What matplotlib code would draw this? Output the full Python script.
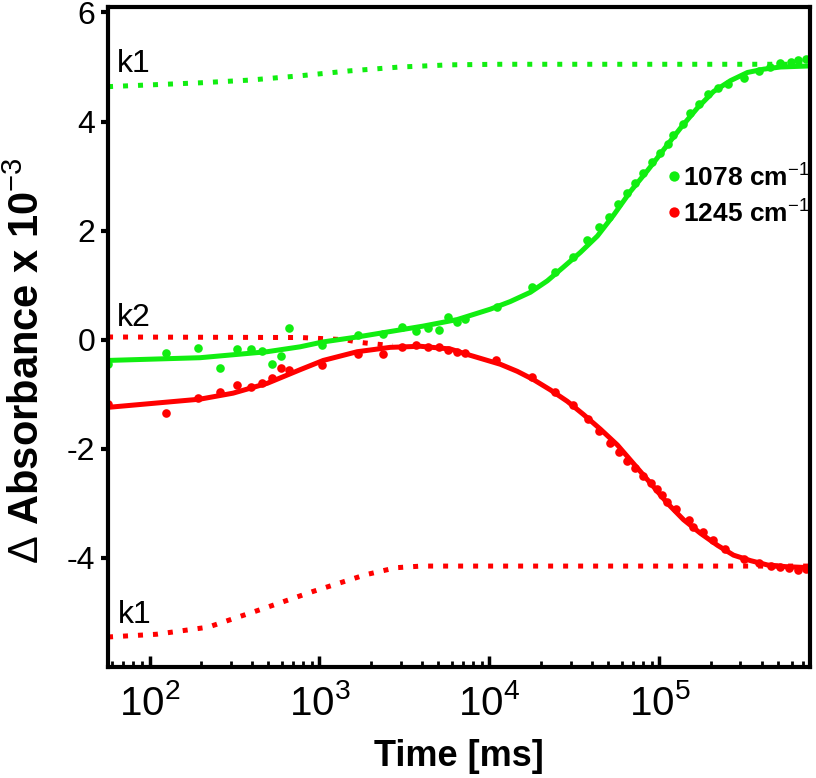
import numpy as np
import matplotlib
matplotlib.use('Agg')
import matplotlib.pyplot as plt

plt.rcParams['font.family'] = ['Liberation Sans', 'DejaVu Sans']
plt.rcParams['mathtext.fontset'] = 'custom'
plt.rcParams['mathtext.rm'] = 'Liberation Sans'
plt.rcParams['mathtext.bf'] = 'Liberation Sans:bold'

GREEN = '#11ee11'
RED = '#ff0000'

# measured points, 1078 cm-1
t_green = [57, 125, 192, 259, 326, 393, 460, 527, 594, 661,
           1040, 1690, 2370, 3070, 3710, 4370, 5070, 5730, 6470, 7210,
           11100, 17700, 24400, 31200, 37700, 44400, 50800, 57400, 64900, 72300,
           80500, 91000, 101000, 112000, 121000, 137000, 152000, 170000, 192000, 220000,
           252000, 313000, 384000, 445000, 516000, 592000, 650000, 725000]
a_green = [-0.45, -0.25, -0.15, -0.52, -0.17, -0.17, -0.2, -0.45, -0.29, 0.22,
           -0.09, 0.09, 0.1, 0.24, 0.16, 0.22, 0.18, 0.42, 0.33, 0.38,
           0.6, 0.96, 1.24, 1.51, 1.82, 2.07, 2.25, 2.49, 2.69, 2.88,
           3.05, 3.25, 3.42, 3.58, 3.75, 3.96, 4.15, 4.33, 4.5, 4.62,
           4.68, 4.8, 4.92, 5.0, 5.07, 5.1, 5.12, 5.15]

# measured points, 1245 cm-1
t_red = [57, 125, 192, 259, 326, 393, 460, 527, 594, 661,
         1040, 1690, 2370, 3070, 3710, 4370, 5070, 5730, 6470, 7210,
         10960, 17700, 24400, 31200, 38200, 44400, 51500, 58200, 64900, 72300,
         79700, 88900, 96500, 103300, 110600, 124900, 149000, 158700, 179400, 205400,
         244900, 313000, 384000, 450800, 516000, 575400, 650000, 725000]
a_red = [-1.18, -1.35, -1.07, -0.95, -0.83, -0.86, -0.8, -0.7, -0.52, -0.55,
         -0.47, -0.27, -0.27, -0.14, -0.1, -0.13, -0.14, -0.18, -0.23, -0.24,
         -0.38, -0.69, -0.96, -1.2, -1.45, -1.67, -1.89, -2.05, -2.22, -2.36,
         -2.49, -2.62, -2.73, -2.85, -2.98, -3.11, -3.31, -3.44, -3.53, -3.67,
         -3.84, -4.02, -4.09, -4.15, -4.16, -4.18, -4.22, -4.2]

# fitted curves
tf_green = [57, 198, 492, 769, 1052, 1667, 2606, 4083, 6471, 10120, 13270, 17420,
            21920, 27230, 34270, 43150, 53650, 67600, 85070, 105700, 133100, 167500,
            208200, 262100, 330000, 410000, 516000, 776000]
af_green = [-0.38, -0.33, -0.22, -0.13, -0.04, 0.05, 0.15, 0.25, 0.37, 0.56, 0.7, 0.87,
            1.08, 1.33, 1.6, 1.9, 2.28, 2.72, 3.1, 3.48, 3.88, 4.25,
            4.55, 4.75, 4.9, 4.96, 5.0, 5.02]
tf_red = [57, 198, 310, 492, 769, 1052, 1667, 2606, 3918, 5884, 7410, 11590, 14590,
          18130, 22830, 28740, 35730, 44980, 56620, 70370, 88620, 111600, 138700,
          174600, 219800, 273100, 343600, 432900, 552200, 776000]
af_red = [-1.24, -1.09, -0.98, -0.8, -0.55, -0.38, -0.22, -0.14, -0.12, -0.17, -0.27,
          -0.45, -0.58, -0.73, -0.92, -1.13, -1.37, -1.64, -1.93, -2.27, -2.63, -3.0,
          -3.3, -3.55, -3.77, -3.95, -4.05, -4.13, -4.16, -4.18]

# kinetic components (dotted)
tk1_green = [57, 198, 389, 776, 1514, 2985, 5890, 11500, 776000]
ak1_green = [4.64, 4.71, 4.76, 4.84, 4.93, 5.0, 5.04, 5.05, 5.05]
tk2_red = [57, 776, 1416, 1734, 2158, 2700]
ak2_red = [0.05, 0.04, 0.0, -0.05, -0.08, -0.11]
tk1_red = [57, 110, 221, 447, 906, 1862, 2818, 3981, 776000]
ak1_red = [-5.45, -5.4, -5.27, -4.95, -4.62, -4.31, -4.18, -4.15, -4.15]

fig = plt.figure(figsize=(8.16, 7.78), dpi=100)
ax = fig.add_axes([0.1324, 0.1427, 0.8603, 0.8483])

dot = (0, (1, 2))
ax.plot(tk1_green, ak1_green, color=GREEN, lw=3.6, ls=dot)
ax.plot(tk2_red, ak2_red, color=RED, lw=3.6, ls=dot)
ax.plot(tk1_red, ak1_red, color=RED, lw=3.6, ls=dot)

ax.plot(tf_green, af_green, color=GREEN, lw=3.6, solid_capstyle='round')
ax.plot(tf_red, af_red, color=RED, lw=3.6, solid_capstyle='round')
ax.plot(t_green, a_green, 'o', color=GREEN, ms=6.2, mew=0,
        label=r'1078 cm$^{\mathrm{-1}}$')
ax.plot(t_red, a_red, 'o', color=RED, ms=6.2, mew=0,
        label=r'1245 cm$^{\mathrm{-1}}$')

ax.text(64, 4.9, 'k1', fontsize=23, va='baseline')
ax.text(64, 0.25, 'k2', fontsize=23, va='baseline')
ax.text(65, -5.2, 'k1', fontsize=23, va='baseline')

ax.set_xscale('log')
ax.set_xlim(57, 7.7e5)
ax.set_ylim(-6, 6.1)
ax.set_yticks([-4, -2, 0, 2, 4, 6])
ax.set_yticklabels(['-4', '-2', '0', '2', '4', '6'])
ax.set_xticks([1e2, 1e3, 1e4, 1e5])
ax.set_xticklabels([r'$\mathregular{10^{2}}$', r'$\mathregular{10^{3}}$',
                    r'$\mathregular{10^{4}}$', r'$\mathregular{10^{5}}$'],
                   fontsize=29)

for s in ax.spines.values():
    s.set_linewidth(3)
ax.tick_params(axis='y', direction='out', length=5, width=3, labelsize=23, pad=4, right=False)
ax.tick_params(axis='x', which='major', direction='in', length=8, width=2.5, pad=12)
ax.tick_params(axis='x', which='minor', direction='in', length=4, width=2)

ax.set_xlabel('Time [ms]', fontsize=26, fontweight='bold', labelpad=12)
ax.set_ylabel(r'$\Delta$ Absorbance x 10$^{\mathrm{-3}}$', fontsize=30,
              fontweight='bold')
ax.yaxis.set_label_coords(-0.085, 0.465)

ax.legend(loc='upper left', bbox_to_anchor=(0.765, 0.80), frameon=False,
          handlelength=0.4, handletextpad=0.15, labelspacing=0.3,
          prop={'weight': 'bold', 'size': 19}, markerscale=1.2)

fig.savefig('out.png', dpi=100)
